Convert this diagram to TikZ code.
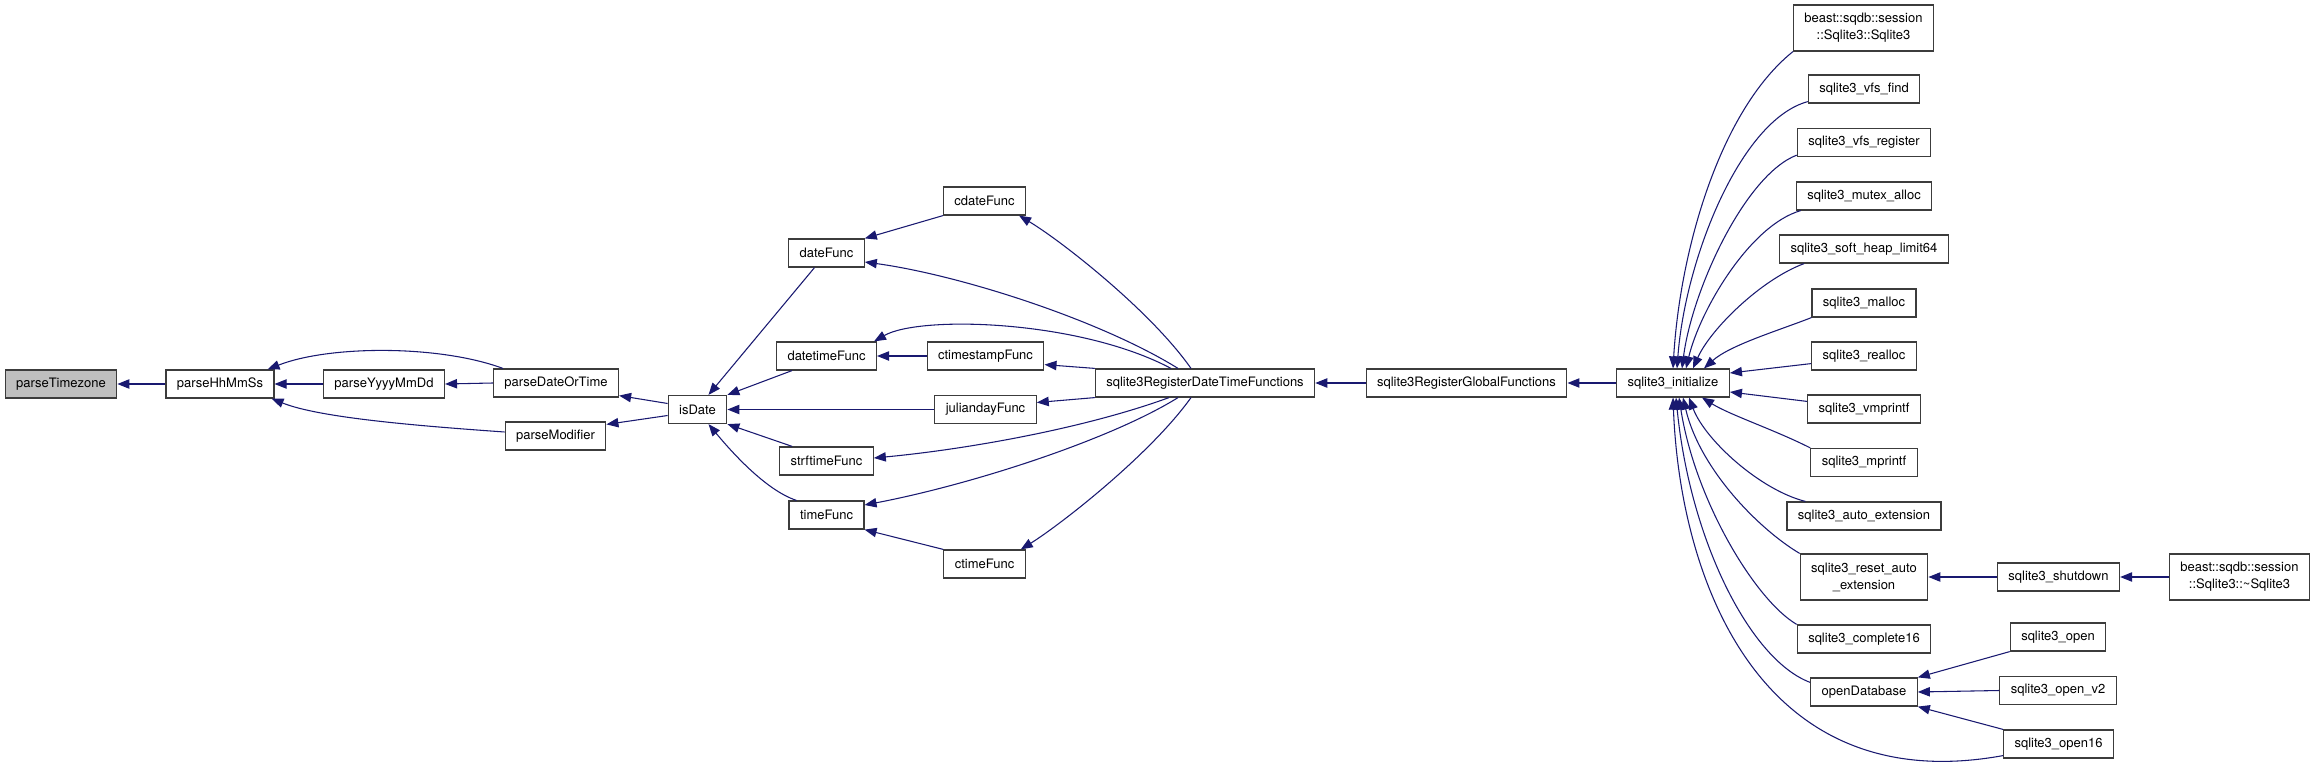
\documentclass[tikz,border=0pt]{standalone}
\usepackage{fontspec}
\setmainfont{TeX Gyre Heros}
\usetikzlibrary{arrows.meta,calc}
\definecolor{cgedge}{RGB}{25,25,112}
\definecolor{cgframe}{RGB}{60,60,60}
\definecolor{cgfocus}{RGB}{191,191,191}
\tikzset{
  cg/.style={font=\fontsize{9.75}{12.75}\selectfont, text=black},
  cgbox/.style={
    cg, draw=cgframe, fill=white, line width=0.9pt, align=center,
    inner xsep=8.2pt, inner ysep=2pt, minimum height=21pt
  },
  cgtall/.style={cgbox, minimum height=34.5pt},
  cgarr/.style={{Triangle[length=9pt,width=7pt]}-, line width=0.8pt, draw=cgedge},
}

\begin{document}
\begin{tikzpicture}[x=0.75pt, y=-0.75pt, cg]
    \useasboundingbox (0,0) rectangle (2317,767);

    % parse helpers
    \node[cgbox, fill=cgfocus] (tz) at (61,384) {parseTimezone};
    \node[cgbox] (hms) at (220,384) {parseHhMmSs};
    \node[cgbox] (ymd) at (384,384) {parseYyyyMmDd};
    \node[cgbox] (dot) at (556,383) {parseDateOrTime};
    \node[cgbox] (mod) at (555.5,436) {parseModifier};
    \node[cgbox] (isd) at (697.5,409.5) {isDate};

    % date/time functions
    \node[cgbox] (datef) at (826.5,253) {dateFunc};
    \node[cgbox] (dtf) at (826.5,356) {datetimeFunc};
    \node[cgbox] (strf) at (826.5,461) {strftimeFunc};
    \node[cgbox] (timef) at (826.5,515) {timeFunc};
    \node[cgbox] (cdatef) at (984.5,201) {cdateFunc};
    \node[cgbox] (ctsf) at (985.5,356) {ctimestampFunc};
    \node[cgbox] (jdf) at (985.5,409.5) {juliandayFunc};
    \node[cgbox] (ctimef) at (984.5,564) {ctimeFunc};

    % registration
    \node[cgbox] (rdt) at (1205,383) {sqlite3RegisterDateTimeFunctions};
    \node[cgbox] (rgf) at (1466.5,383) {sqlite3RegisterGlobalFunctions};
    \node[cgbox] (init) at (1673,383) {sqlite3\_initialize};

    % callers of sqlite3_initialize
    \node[cgtall] (sqctor) at (1863.5,28) {beast::sqdb::session\\::Sqlite3::Sqlite3};
    \node[cgbox] (vfsfind) at (1864,89) {sqlite3\_vfs\_find};
    \node[cgbox] (vfsreg) at (1864,142.5) {sqlite3\_vfs\_register};
    \node[cgbox] (mutex) at (1864,196) {sqlite3\_mutex\_alloc};
    \node[cgbox] (softheap) at (1864,249) {sqlite3\_soft\_heap\_limit64};
    \node[cgbox] (malloc) at (1864,303) {sqlite3\_malloc};
    \node[cgbox] (realloc) at (1864,356) {sqlite3\_realloc};
    \node[cgbox] (vmpf) at (1864,409) {sqlite3\_vmprintf};
    \node[cgbox] (mpf) at (1864,462.5) {sqlite3\_mprintf};
    \node[cgbox] (autoext) at (1864,516) {sqlite3\_auto\_extension};
    \node[cgtall] (resetext) at (1864,577) {sqlite3\_reset\_auto\\\_extension};
    \node[cgbox] (cpl16) at (1864,639) {sqlite3\_complete16};
    \node[cgbox] (opendb) at (1864,692) {openDatabase};

    % far right
    \node[cgbox] (shutdown) at (2058.5,577) {sqlite3\_shutdown};
    \node[cgtall] (sqdtor) at (2239.5,577) {beast::sqdb::session\\::Sqlite3::\textasciitilde Sqlite3};
    \node[cgbox] (open) at (2058,637) {sqlite3\_open};
    \node[cgbox] (openv2) at (2058,690.5) {sqlite3\_open\_v2};
    \node[cgbox] (open16) at (2058.5,744) {sqlite3\_open16};

    % parse chain
    \draw[cgarr] (tz.east) -- (hms.west);
    \draw[cgarr] (hms.east) -- (ymd.west);
    \draw[cgarr] (ymd.east) -- (dot.west);
    \draw[cgarr] ($(hms.north east)+(-7,0)$) .. controls (330,345) and (440,345) .. ($(dot.north west)+(10,0)$);
    \draw[cgarr] ($(hms.south east)+(-3,0)$) .. controls (320,418) and (420,426) .. ($(mod.west)+(0,-4)$);
    \draw[cgarr] ($(dot.south east)+(0,-2)$) -- ($(isd.west)+(0,-6)$);
    \draw[cgarr] ($(mod.north east)+(0,3)$) -- ($(isd.west)+(0,6)$);

    % isDate callers
    \draw[cgarr] ($(isd.north)+(11,0)$) -- ($(datef.south)+(-12,0)$);
    \draw[cgarr] (isd.north east) -- ($(dtf.south west)+(16,0)$);
    \draw[cgarr] (isd.east) -- (jdf.west);
    \draw[cgarr] (isd.south east) -- ($(strf.north west)+(13,0)$);
    \draw[cgarr] ($(isd.south)+(11,0)$) .. controls (730,450) and (765,490) .. ($(timef.north west)+(8,0)$);
    \draw[cgarr] (datef.north east) -- (cdatef.south west);
    \draw[cgarr] (dtf.east) -- (ctsf.west);
    \draw[cgarr] (timef.south east) -- (ctimef.north west);

    % sqlite3RegisterDateTimeFunctions
    \draw[cgarr] ($(cdatef.south east)+(-7,0)$) .. controls (1060,240) and (1150,310) .. ($(rdt.north)+(-14,0)$);
    \draw[cgarr] ($(datef.east)+(0,9)$) .. controls (960,275) and (1100,320) .. ($(rdt.north)+(-27,0)$);
    \draw[cgarr] ($(dtf.north east)+(-3,0)$) .. controls (920,315) and (1080,320) .. ($(rdt.north)+(-34,0)$);
    \draw[cgarr] ($(ctsf.south east)+(0,-6)$) -- (rdt.north west);
    \draw[cgarr] ($(jdf.east)+(0,-7)$) -- (rdt.south west);
    \draw[cgarr] ($(strf.east)+(0,-3)$) .. controls (960,450) and (1080,430) .. ($(rdt.south)+(-36,0)$);
    \draw[cgarr] ($(timef.east)+(0,-10)$) .. controls (970,485) and (1110,440) .. ($(rdt.south)+(-27,0)$);
    \draw[cgarr] ($(ctimef.north east)+(-5,0)$) .. controls (1060,525) and (1150,455) .. ($(rdt.south)+(-14,0)$);
    \draw[cgarr] (rdt.east) -- (rgf.west);
    \draw[cgarr] (rgf.east) -- (init.west);

    % sqlite3_initialize callers
    \draw[cgarr] (init.north) .. controls (1680,250) and (1720,110) .. (sqctor.south west);
    \draw[cgarr] ($(init.north)+(4,0)$) .. controls (1685,260) and (1740,120) .. ($(vfsfind.south west)+(0,-2)$);
    \draw[cgarr] ($(init.north)+(9,0)$) .. controls (1692,290) and (1745,175) .. ($(vfsreg.south west)+(0,-2)$);
    \draw[cgarr] ($(init.north)+(13,0)$) .. controls (1700,310) and (1750,225) .. ($(mutex.south west)+(5,0)$);
    \draw[cgarr] ($(init.north)+(20,0)$) .. controls (1710,330) and (1760,280) .. ($(softheap.south west)+(25,0)$);
    \draw[cgarr] ($(init.north)+(31,0)$) .. controls (1730,345) and (1780,330) .. (malloc.south west);
    \draw[cgarr] ($(init.east)+(0,-10)$) -- ($(realloc.south west)+(0,-7)$);
    \draw[cgarr] ($(init.east)+(0,9)$) -- ($(vmpf.north west)+(0,7)$);
    \draw[cgarr] ($(init.south)+(29,0)$) .. controls (1730,415) and (1775,430) .. (mpf.north west);
    \draw[cgarr] ($(init.south)+(16,0)$) .. controls (1705,440) and (1760,490) .. ($(autoext.north west)+(19,0)$);
    \draw[cgarr] ($(init.south)+(10,0)$) .. controls (1700,470) and (1760,530) .. (resetext.north west);
    \draw[cgarr] ($(init.south)+(6,0)$) .. controls (1695,500) and (1755,600) .. (cpl16.north west);
    \draw[cgarr] ($(init.south)+(3,0)$) .. controls (1690,540) and (1750,660) .. ($(opendb.north west)+(0,5)$);
    \draw[cgarr] (init.south) .. controls (1680,580) and (1760,800) .. ($(open16.south west)+(0,-3)$);

    % shutdown and open
    \draw[cgarr] (resetext.east) -- (shutdown.west);
    \draw[cgarr] (shutdown.east) -- (sqdtor.west);
    \draw[cgarr] (opendb.north east) -- (open.south west);
    \draw[cgarr] (opendb.east) -- (openv2.west);
    \draw[cgarr] (opendb.south east) -- (open16.north west);
\end{tikzpicture}
\end{document}
